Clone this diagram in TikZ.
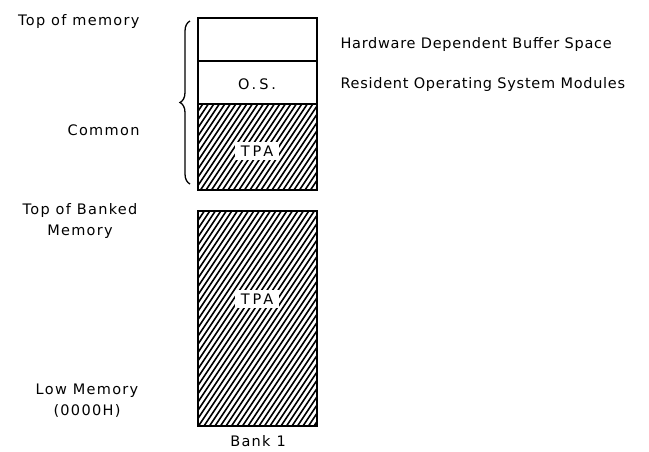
\documentclass[tikz,border=0pt]{standalone}
\usepackage{fontspec}
\setmainfont{DejaVu Sans}[LetterSpace=5]
\newfontfamily\sidefont{DejaVu Sans}[LetterSpace=9]
\newfontfamily\boxfont{DejaVu Sans}[LetterSpace=20]
\usetikzlibrary{decorations.pathreplacing}

\begin{document}
\begin{tikzpicture}[
    x=1pt,y=-1pt,
    every node/.style={font=\fontsize{14.5}{21}\selectfont},
    side/.style={font=\sidefont\fontsize{14.5}{21}\selectfont},
    inbox/.style={font=\boxfont\fontsize{14.5}{21}\selectfont},
    edge/.style={line width=2pt},
    hatch/.style={line width=1.6pt},
    tag/.style={inbox, fill=white, inner xsep=6pt, inner ysep=4pt}
    ]
    \useasboundingbox (0,0) rectangle (649,451);
    \begin{scope}
      \clip (198,104) rectangle (317,190);
      \foreach \x in {140,145.5,...,320} \draw[hatch] (\x,190) -- ++(58,-87);
    \end{scope}
    \begin{scope}
      \clip (198,211) rectangle (317,426);
      \foreach \x in {50,55.5,...,320} \draw[hatch] (\x,426) -- ++(144,-216);
    \end{scope}
    \draw[line width=1.5pt] (198,61) -- (317,61);
    \draw[line width=1.5pt] (198,104) -- (317,104);
    \draw[edge] (198,18) rectangle (317,190);
    \draw[edge] (198,211) rectangle (317,426);
    \draw[line width=1.3pt, decorate, decoration={brace, amplitude=10pt}] (190,184) -- (190,21);
    \node[inbox] (os) at (257,84) {O.S.};
    \node[tag] (tpa1) at (257,151) {TPA};
    \node[tag] (tpa2) at (257,299) {TPA};
    \node[side, inner sep=1pt] (bank) at (258,441) {Bank 1};
    \node[anchor=west] (hw) at (337,44) {Hardware Dependent Buffer Space};
    \node[anchor=west] (res) at (337,84) {Resident Operating System Modules};
    \node[side, anchor=east] (top) at (143,21) {Top of memory};
    \node[side, anchor=east] (common) at (143,130) {Common};
    \node[side, align=center] (banked) at (80,221) {Top of Banked\\Memory};
    \node[side, align=center] (low) at (87,401) {Low Memory\\(0000H)};
  \end{tikzpicture}
\end{document}
